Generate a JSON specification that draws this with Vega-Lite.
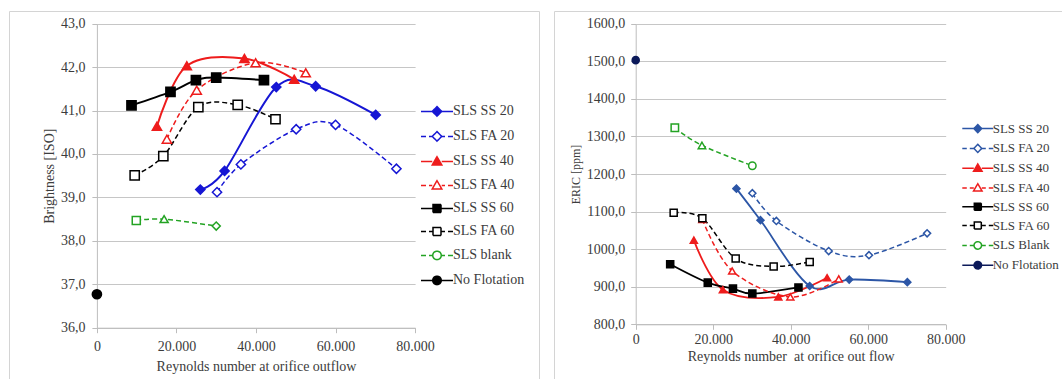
{
  "$schema": "https://vega.github.io/schema/vega-lite/v6.json",
  "padding": {"left": 8, "top": 10, "right": 0, "bottom": 0},
  "spacing": 13,
  "background": "white",
  "config": {
    "font": "Liberation Serif",
    "view": {"stroke": "#d4d4d4", "strokeWidth": 1},
    "axis": {
      "labelFont": "Liberation Serif", "labelFontSize": 14, "labelColor": "#3c3c3c",
      "titleFont": "Liberation Serif", "titleFontSize": 14, "titleFontWeight": "normal", "titleColor": "#3c3c3c",
      "gridColor": "#c6c6c6", "domainColor": "#bdbdbd", "tickColor": "#bdbdbd", "tickSize": 5,
      "labelFlush": false, "labelOverlap": false
    },
    "legend": {"labelFont": "Liberation Serif", "labelColor": "#3c3c3c", "labelLimit": 200}
  },
  "datasets": {
    "L": [
      {"series": "SLS SS 20", "i": 1, "re": 26000, "v": 39.18},
      {"series": "SLS SS 20", "i": 2, "re": 32100, "v": 39.61},
      {"series": "SLS SS 20", "i": 3, "re": 45100, "v": 41.54},
      {"series": "SLS SS 20", "i": 4, "re": 55000, "v": 41.56},
      {"series": "SLS SS 20", "i": 5, "re": 70100, "v": 40.90},
      {"series": "SLS FA 20", "i": 1, "re": 30200, "v": 39.12},
      {"series": "SLS FA 20", "i": 2, "re": 36200, "v": 39.76},
      {"series": "SLS FA 20", "i": 3, "re": 50100, "v": 40.57},
      {"series": "SLS FA 20", "i": 4, "re": 60000, "v": 40.67},
      {"series": "SLS FA 20", "i": 5, "re": 75300, "v": 39.66},
      {"series": "SLS SS 40", "i": 1, "re": 15100, "v": 40.64},
      {"series": "SLS SS 40", "i": 2, "re": 22600, "v": 42.03},
      {"series": "SLS SS 40", "i": 3, "re": 37100, "v": 42.20},
      {"series": "SLS SS 40", "i": 4, "re": 49600, "v": 41.72},
      {"series": "SLS FA 40", "i": 1, "re": 17600, "v": 40.34},
      {"series": "SLS FA 40", "i": 2, "re": 25100, "v": 41.47},
      {"series": "SLS FA 40", "i": 3, "re": 39900, "v": 42.10},
      {"series": "SLS FA 40", "i": 4, "re": 52500, "v": 41.87},
      {"series": "SLS SS 60", "i": 1, "re": 8700, "v": 41.12},
      {"series": "SLS SS 60", "i": 2, "re": 18500, "v": 41.43},
      {"series": "SLS SS 60", "i": 3, "re": 24900, "v": 41.70},
      {"series": "SLS SS 60", "i": 4, "re": 30000, "v": 41.76},
      {"series": "SLS SS 60", "i": 5, "re": 42000, "v": 41.70},
      {"series": "SLS FA 60", "i": 1, "re": 9500, "v": 39.51},
      {"series": "SLS FA 60", "i": 2, "re": 16700, "v": 39.95},
      {"series": "SLS FA 60", "i": 3, "re": 25500, "v": 41.08},
      {"series": "SLS FA 60", "i": 4, "re": 35400, "v": 41.13},
      {"series": "SLS FA 60", "i": 5, "re": 44900, "v": 40.80},
      {"series": "SLS blank", "i": 1, "re": 9900, "v": 38.47},
      {"series": "SLS blank", "i": 2, "re": 16900, "v": 38.50},
      {"series": "SLS blank", "i": 3, "re": 30000, "v": 38.34},
      {"series": "No Flotation", "i": 1, "re": 0, "v": 36.77}
    ],
    "R": [
      {"series": "SLS SS 20", "i": 1, "re": 26000, "v": 1161},
      {"series": "SLS SS 20", "i": 2, "re": 32200, "v": 1077},
      {"series": "SLS SS 20", "i": 3, "re": 44900, "v": 902},
      {"series": "SLS SS 20", "i": 4, "re": 55100, "v": 919},
      {"series": "SLS SS 20", "i": 5, "re": 70100, "v": 912},
      {"series": "SLS FA 20", "i": 1, "re": 30100, "v": 1149},
      {"series": "SLS FA 20", "i": 2, "re": 36300, "v": 1075},
      {"series": "SLS FA 20", "i": 3, "re": 49800, "v": 995},
      {"series": "SLS FA 20", "i": 4, "re": 60200, "v": 984},
      {"series": "SLS FA 20", "i": 5, "re": 75200, "v": 1042},
      {"series": "SLS SS 40", "i": 1, "re": 15000, "v": 1024},
      {"series": "SLS SS 40", "i": 2, "re": 22500, "v": 892},
      {"series": "SLS SS 40", "i": 3, "re": 36800, "v": 873},
      {"series": "SLS SS 40", "i": 4, "re": 49400, "v": 924},
      {"series": "SLS FA 40", "i": 1, "re": 17200, "v": 1079},
      {"series": "SLS FA 40", "i": 2, "re": 24900, "v": 942},
      {"series": "SLS FA 40", "i": 3, "re": 39900, "v": 873},
      {"series": "SLS FA 40", "i": 4, "re": 52400, "v": 921},
      {"series": "SLS SS 60", "i": 1, "re": 8900, "v": 960},
      {"series": "SLS SS 60", "i": 2, "re": 18600, "v": 911},
      {"series": "SLS SS 60", "i": 3, "re": 25100, "v": 895},
      {"series": "SLS SS 60", "i": 4, "re": 30100, "v": 882},
      {"series": "SLS SS 60", "i": 5, "re": 42000, "v": 898},
      {"series": "SLS FA 60", "i": 1, "re": 9800, "v": 1097},
      {"series": "SLS FA 60", "i": 2, "re": 17200, "v": 1082},
      {"series": "SLS FA 60", "i": 3, "re": 25800, "v": 975},
      {"series": "SLS FA 60", "i": 4, "re": 35600, "v": 954},
      {"series": "SLS FA 60", "i": 5, "re": 44900, "v": 966},
      {"series": "SLS Blank", "i": 1, "re": 10100, "v": 1323},
      {"series": "SLS Blank", "i": 2, "re": 17100, "v": 1276},
      {"series": "SLS Blank", "i": 3, "re": 30100, "v": 1222},
      {"series": "No Flotation", "i": 1, "re": 0, "v": 1503}
    ]
  },
  "hconcat": [
    {
      "width": 530,
      "height": 368,
      "data": {"name": "L"},
      "resolve": {"scale": {"shape": "independent"}},
      "encoding": {
        "x": {
          "field": "re", "type": "quantitative",
          "scale": {"domain": [0, 80000], "range": [87.9, 406.1], "nice": false, "zero": false},
          "axis": {
            "values": [0, 20000, 40000, 60000, 80000],
            "labelExpr": "replace(format(datum.value, ','), ',', '.')",
            "title": "Reynolds number at orifice outflow",
            "offset": -51.3, "grid": false, "labelPadding": 7, "titlePadding": 6
          }
        },
        "y": {
          "field": "v", "type": "quantitative",
          "scale": {"domain": [36, 43], "range": [316.7, 12.7], "nice": false, "zero": false},
          "axis": {
            "values": [36, 37, 38, 39, 40, 41, 42, 43],
            "labelExpr": "replace(format(datum.value, '.1f'), '.', ',')",
            "title": "Brightness [ISO]",
            "offset": -87.9, "grid": true, "labelPadding": 7, "titlePadding": 4
          }
        }
      },
      "layer": [
        {
          "transform": [{"filter": "indexof(datum.series, 'SS') >= 0"}],
          "mark": {"type": "line", "interpolate": "cardinal", "strokeWidth": 2},
          "encoding": {
            "stroke": {
              "field": "series", "type": "nominal",
              "scale": {
                "domain": ["SLS SS 20", "SLS FA 20", "SLS SS 40", "SLS FA 40", "SLS SS 60", "SLS FA 60", "SLS blank", "No Flotation"],
                "range": ["#1616d4", "#1616d4", "#ee1c1c", "#ee1c1c", "#000000", "#000000", "#23a323", "#000000"]
              },
              "legend": {
                "orient": "none", "legendX": 412, "legendY": 93.4, "title": null,
                "padding": 0, "rowPadding": 9, "symbolSize": 100, "symbolOffset": 9, "labelOffset": 9,
                "labelFontSize": 14, "labelFont": "Liberation Serif", "symbolStrokeWidth": 1.5, "columns": 1,
                "encode": {
                  "symbols": {
                    "update": {
                      "shape": {"signal": "((indexof(datum.value,'FA')>=0||indexof(datum.value,'lank')>=0)?'M-3.2,0H-2.2M-1.6,0H-0.95M0.95,0H1.6M2.2,0H3.2':'M-3.2,0H-0.95M0.95,0H3.2')+(indexof(datum.value,'20')>=0?'M0,-0.95L0.95,0L0,0.95L-0.95,0Z':indexof(datum.value,'40')>=0?'M0,-0.95L0.95,0.7L-0.95,0.7Z':indexof(datum.value,'60')>=0?'M-0.8,-0.8H0.8V0.8H-0.8Z':'M-0.85,0A0.85,0.85,0,1,0,0.85,0A0.85,0.85,0,1,0,-0.85,0Z')"},
                      "stroke": {"signal": "indexof(datum.value,'20')>=0?'#1616d4':indexof(datum.value,'40')>=0?'#ee1c1c':indexof(datum.value,'lank')>=0?'#23a323':'#000000'"},
                      "fill": {"signal": "(indexof(datum.value,'FA')>=0||indexof(datum.value,'lank')>=0)?'white':(indexof(datum.value,'20')>=0?'#1616d4':indexof(datum.value,'40')>=0?'#ee1c1c':'#000000')"},
                      "fillOpacity": {"value": 1},
                      "strokeDash": {"value": [1, 0]},
                      "opacity": {"value": 1}
                    }
                  }
                }
              }
            },
            "order": {"field": "i", "type": "quantitative"}
          }
        },
        {
          "transform": [{"filter": "indexof(datum.series, 'FA') >= 0 || indexof(datum.series, 'lank') >= 0"}],
          "mark": {"type": "line", "interpolate": "cardinal", "strokeWidth": 1.5, "strokeDash": [5, 3]},
          "encoding": {
            "stroke": {"field": "series", "type": "nominal", "legend": null},
            "order": {"field": "i", "type": "quantitative"}
          }
        },
        {
          "transform": [{"filter": "indexof(datum.series, 'lank') < 0"}],
          "mark": {"type": "point", "opacity": 1, "size": 85, "strokeWidth": 1.5},
          "encoding": {
            "stroke": {"field": "series", "type": "nominal", "legend": null},
            "fill": {
              "field": "series", "type": "nominal", "legend": null,
              "scale": {
                "domain": ["SLS SS 20", "SLS FA 20", "SLS SS 40", "SLS FA 40", "SLS SS 60", "SLS FA 60", "No Flotation"],
                "range": ["#1616d4", "#ffffff", "#ee1c1c", "#ffffff", "#000000", "#ffffff", "#000000"]
              }
            },
            "shape": {
              "field": "series", "type": "nominal", "legend": null,
              "scale": {
                "domain": ["SLS SS 20", "SLS FA 20", "SLS SS 40", "SLS FA 40", "SLS SS 60", "SLS FA 60", "No Flotation"],
                "range": ["diamond", "diamond", "triangle-up", "triangle-up", "square", "square", "circle"]
              }
            }
          }
        },
        {
          "transform": [{"filter": "indexof(datum.series, 'lank') >= 0"}],
          "mark": {"type": "point", "opacity": 1, "size": 65, "strokeWidth": 1.5, "fill": "white"},
          "encoding": {
            "stroke": {"field": "series", "type": "nominal", "legend": null},
            "shape": {
              "field": "i", "type": "nominal", "legend": null,
              "scale": {"domain": [1, 2, 3], "range": ["square", "triangle-up", "diamond"]}
            }
          }
        }
      ]
    },
    {
      "width": 510,
      "height": 368,
      "data": {"name": "R"},
      "resolve": {"scale": {"shape": "independent"}},
      "encoding": {
        "x": {
          "field": "re", "type": "quantitative",
          "scale": {"domain": [0, 80000], "range": [81.7, 391.7], "nice": false, "zero": false},
          "axis": {
            "values": [0, 20000, 40000, 60000, 80000],
            "labelExpr": "replace(format(datum.value, ','), ',', '.')",
            "title": "Reynolds number \u00a0at orifice out flow",
            "offset": -54.7, "grid": false, "labelPadding": 3, "titlePadding": 3
          }
        },
        "y": {
          "field": "v", "type": "quantitative",
          "scale": {"domain": [800, 1600], "range": [313.3, 12.7], "nice": false, "zero": false},
          "axis": {
            "values": [800, 900, 1000, 1100, 1200, 1300, 1400, 1500, 1600],
            "labelExpr": "replace(format(datum.value, '.1f'), '.', ',')",
            "title": "ERIC [ppm]", "titleFontSize": 12,
            "offset": -81.7, "grid": true, "labelPadding": 6, "titlePadding": 4
          }
        }
      },
      "layer": [
        {
          "transform": [{"filter": "indexof(datum.series, 'SS') >= 0"}],
          "mark": {"type": "line", "interpolate": "cardinal", "strokeWidth": 1.8},
          "encoding": {
            "stroke": {
              "field": "series", "type": "nominal",
              "scale": {
                "domain": ["SLS SS 20", "SLS FA 20", "SLS SS 40", "SLS FA 40", "SLS SS 60", "SLS FA 60", "SLS Blank", "No Flotation"],
                "range": ["#2c56a6", "#2c56a6", "#ee1c1c", "#ee1c1c", "#000000", "#000000", "#23a323", "#0c1a5a"]
              },
              "legend": {
                "orient": "none", "legendX": 408.3, "legendY": 111.1, "title": null,
                "padding": 0, "rowPadding": 4.8, "symbolSize": 100, "symbolOffset": 9, "labelOffset": 8.4,
                "labelFontSize": 13, "labelFont": "Liberation Serif", "symbolStrokeWidth": 1.5, "columns": 1,
                "encode": {
                  "symbols": {
                    "update": {
                      "shape": {"signal": "((indexof(datum.value,'FA')>=0||indexof(datum.value,'lank')>=0)?'M-3.1,0H-2.2M-1.6,0H-0.8M0.8,0H1.6M2.2,0H3.1':'M-3.1,0H-0.8M0.8,0H3.1')+(indexof(datum.value,'20')>=0?'M0,-0.8L0.8,0L0,0.8L-0.8,0Z':indexof(datum.value,'40')>=0?'M0,-0.85L0.85,0.6L-0.85,0.6Z':indexof(datum.value,'60')>=0?'M-0.7,-0.7H0.7V0.7H-0.7Z':'M-0.75,0A0.75,0.75,0,1,0,0.75,0A0.75,0.75,0,1,0,-0.75,0Z')"},
                      "stroke": {"signal": "indexof(datum.value,'20')>=0?'#2c56a6':indexof(datum.value,'40')>=0?'#ee1c1c':indexof(datum.value,'lank')>=0?'#23a323':indexof(datum.value,'No')>=0?'#0c1a5a':'#000000'"},
                      "fill": {"signal": "(indexof(datum.value,'FA')>=0||indexof(datum.value,'lank')>=0)?'white':(indexof(datum.value,'20')>=0?'#2c56a6':indexof(datum.value,'40')>=0?'#ee1c1c':indexof(datum.value,'No')>=0?'#0c1a5a':'#000000')"},
                      "fillOpacity": {"value": 1},
                      "strokeDash": {"value": [1, 0]},
                      "opacity": {"value": 1}
                    }
                  }
                }
              }
            },
            "order": {"field": "i", "type": "quantitative"}
          }
        },
        {
          "transform": [{"filter": "indexof(datum.series, 'FA') >= 0 || indexof(datum.series, 'lank') >= 0"}],
          "mark": {"type": "line", "interpolate": "cardinal", "strokeWidth": 1.5, "strokeDash": [5, 3]},
          "encoding": {
            "stroke": {"field": "series", "type": "nominal", "legend": null},
            "order": {"field": "i", "type": "quantitative"}
          }
        },
        {
          "transform": [{"filter": "indexof(datum.series, 'lank') < 0"}],
          "mark": {"type": "point", "opacity": 1, "size": 50, "strokeWidth": 1.5},
          "encoding": {
            "stroke": {"field": "series", "type": "nominal", "legend": null},
            "fill": {
              "field": "series", "type": "nominal", "legend": null,
              "scale": {
                "domain": ["SLS SS 20", "SLS FA 20", "SLS SS 40", "SLS FA 40", "SLS SS 60", "SLS FA 60", "No Flotation"],
                "range": ["#2c56a6", "#ffffff", "#ee1c1c", "#ffffff", "#000000", "#ffffff", "#0c1a5a"]
              }
            },
            "shape": {
              "field": "series", "type": "nominal", "legend": null,
              "scale": {
                "domain": ["SLS SS 20", "SLS FA 20", "SLS SS 40", "SLS FA 40", "SLS SS 60", "SLS FA 60", "No Flotation"],
                "range": ["diamond", "diamond", "triangle-up", "triangle-up", "square", "square", "circle"]
              }
            }
          }
        },
        {
          "transform": [{"filter": "indexof(datum.series, 'lank') >= 0"}],
          "mark": {"type": "point", "opacity": 1, "size": 55, "strokeWidth": 1.5, "fill": "white"},
          "encoding": {
            "stroke": {"field": "series", "type": "nominal", "legend": null},
            "shape": {
              "field": "i", "type": "nominal", "legend": null,
              "scale": {"domain": [1, 2, 3], "range": ["square", "triangle-up", "circle"]}
            }
          }
        }
      ]
    }
  ],
  "resolve": {
    "scale": {"x": "independent", "y": "independent", "stroke": "independent", "fill": "independent", "shape": "independent"},
    "legend": {"stroke": "independent"}
  }
}
